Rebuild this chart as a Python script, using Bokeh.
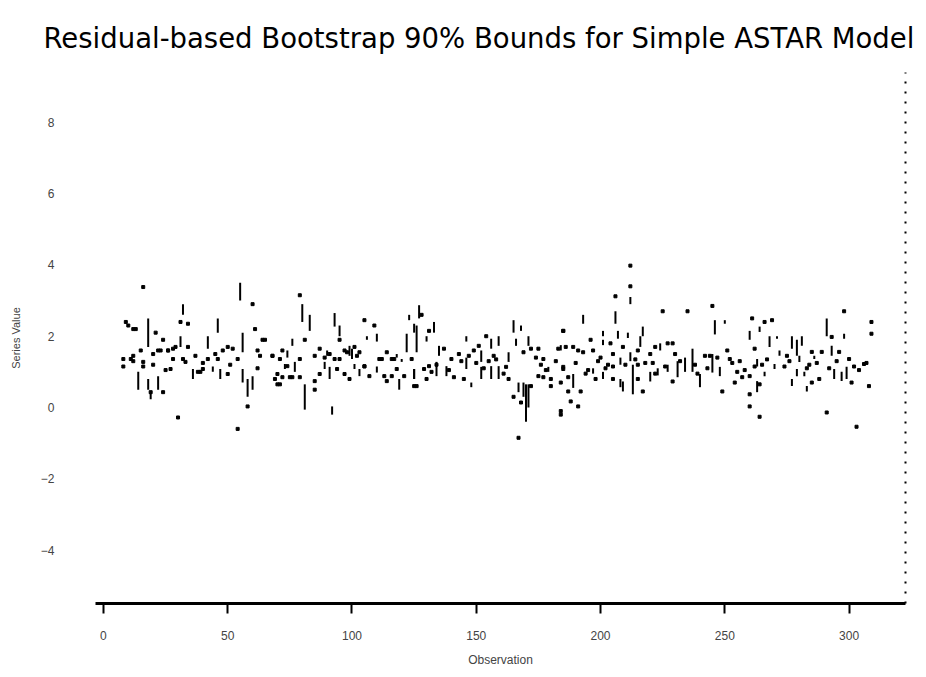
from bokeh.plotting import figure
from bokeh.models import Range1d, LinearAxis, FixedTicker
from bokeh.embed import file_html
from bokeh.resources import INLINE

# ---- data (observation, series value) ----
dot_obs = [16, 60, 31, 34, 10, 13, 21, 24, 61, 64, 8, 8, 11, 15, 16, 20, 23, 26, 28, 32, 34, 39, 42, 50, 48,
           52, 54, 19, 24, 30, 54, 58, 12, 20, 25, 29, 37, 40, 45, 51, 62, 63,
           79, 95, 105, 109, 65, 81, 68, 72, 79, 71, 70, 72, 76, 79, 69, 71, 85, 87, 89, 91, 87, 85, 85, 95,
           97, 101, 102, 105, 107, 99, 97, 112, 114, 116, 113, 116, 114, 121, 125,
           128, 131, 137, 124, 126, 129, 131, 132, 130, 140, 141, 144, 145, 147, 149, 151, 154, 155, 157, 162,
           163, 169, 172, 165, 168, 167, 175, 174, 177, 175, 177, 180, 180, 183, 185, 185, 184, 184, 172,
           212, 212, 206, 225, 235, 245, 185, 196, 186, 189, 191, 193, 197, 204, 205, 209, 215, 220, 222, 227,
           229, 230, 242, 200, 203, 205, 215, 215, 217, 221, 222, 229, 239, 185, 187, 187, 192, 188, 191, 184,
           194, 198, 205,
           298, 309, 309, 261, 266, 293, 296, 251, 262, 275, 285, 289, 300, 306, 244, 247, 252, 262, 254, 255,
           257, 260, 264, 283, 285, 288, 301, 308, 249, 260, 260, 264, 291, 303, 269,
           9, 12, 12, 16, 22, 26, 28, 33, 27, 38, 40, 46, 50, 62, 68, 74, 75, 70, 93, 94, 98, 103, 105, 117,
           118, 111, 134, 139, 143, 150, 153, 158, 161, 176, 178, 182, 190, 195, 199, 202, 210, 214, 218, 226,
           232, 238, 243, 253, 256, 258, 265, 267, 274, 276, 284, 287, 292, 295, 302, 304, 307]
dot_val = [3.38, 2.9, 2.4, 2.35, 2.3, 2.2, 2.1, 1.9, 2.2, 1.9, 1.36, 1.15, 1.36, 1.6, 1.28, 1.5, 1.6, 1.6, 1.36,
           1.36, 1.7, 1.0, 1.36, 0.94, 1.6, 1.65, 1.36, 0.43, 0.43, -0.28, -0.6, 0.03, 1.45, 1.2, 1.05, 1.7,
           1.45, 1.25, 1.5, 1.2, 1.1, 1.45,
           3.15, 1.9, 2.45, 2.3, 1.9, 1.9, 1.45, 1.6, 1.36, 1.36, 0.94, 0.85, 0.85, 0.85, 0.8, 0.65, 1.45, 1.65,
           1.4, 1.5, 0.94, 0.74, 0.5, 1.36, 1.6, 1.7, 1.45, 1.15, 0.88, 0.8, 0.94, 1.36, 1.55, 1.36, 0.88, 0.88,
           0.74, 0.88, 0.6,
           2.6, 2.15, 1.65, 1.36, 0.6, 1.08, 1.16, 1.0, 0.8, 1.36, 0.85, 1.3, 0.8, 1.45, 1.6, 1.73, 2.0, 1.3,
           1.45, 1.14, 0.8, 1.55, 1.65, 0.3, 0.14, -0.85, 1.65, 1.4, 1.36, 0.88, 0.85, 0.8, 0.6, 1.65, 2.15,
           1.14, 0.7, -0.1, 0.6,
           3.98, 3.4, 3.12, 2.7, 2.7, 2.85, 2.15, 1.9, 1.7, 1.7, 1.6, 1.55, 1.6, 1.8, 1.5, 1.7, 1.6, 1.5, 1.7,
           1.8, 1.8, 1.5, 1.45, 1.4, 1.2, 1.15, 1.2, 0.8, 0.45, 1.25, 0.95, 0.73, 0.95, 1.08, 0.85, 0.45, 0.45,
           0.17, 0.03, -0.2, 0.95, 0.8, 0.8,
           2.7, 2.4, 2.07, 2.5, 2.4, 1.98, 1.56, 1.6, 1.65, 1.45, 1.56, 1.56, 1.36, 1.22, 1.45, 1.4, 1.36, 1.15,
           0.7, 1.0, 0.85, 0.88, 0.65, 1.1, 0.7, 0.8, 0.7, 0.6, 0.45, 0.37, 0.03, -0.26, -0.14, -0.54, 2.45,
           2.4, 2.2, 1.3, 1.15, 1.6, 1.6, 1.65, 1.28, 1.08, 1.0, 1.08, 1.36, 1.7, 1.6, 1.45, 1.16, 0.85, 0.65,
           1.36, 1.08, 1.55, 1.55, 1.16, 1.36, 1.08, 1.36, 1.2, 1.05, 1.5, 1.25, 1.1, 1.35, 0.95, 1.2, 1.05,
           1.3, 1.25, 1.05, 1.3, 1.1, 1.2, 1.35, 1.25, 1.15, 1.3, 1.2, 1.1, 1.25, 1.3, 1.05, 1.2, 1.35, 1.15,
           1.3, 1.2, 1.25, 1.1, 1.3, 1.15, 1.05, 1.25]

# short vertical runs of points: observation, low value, high value
run_obs = [55, 32, 46, 18, 31, 42, 56, 36, 44, 47, 56, 58, 60, 14, 18, 22, 19,
           80, 83, 93, 95, 106, 110, 123, 125, 122, 76, 74, 73, 77, 81, 90, 89, 91, 92, 99, 100, 101, 103,
           110, 118, 120, 119, 125,
           127, 126, 133, 130, 135, 125, 134, 138, 146, 146, 148, 152, 152, 156, 159, 156, 159, 163, 165, 168,
           166, 171, 167, 169, 170, 171, 179,
           212, 193, 206, 246, 201, 207, 211, 217, 237, 245, 184, 201, 216, 224, 208, 212, 213, 220, 223, 227,
           231, 234, 240, 189, 197, 201, 208, 209,
           250, 260, 264, 268, 271, 277, 279, 281, 291, 298, 293, 272, 280, 286, 263, 248, 266, 270, 277,
           279, 282, 283, 263, 294, 297, 299]
run_lo = [3.0, 2.6, 2.1, 1.7, 1.7, 1.65, 1.55, 0.8, 1.0, 0.8, 0.7, 0.3, 0.5, 0.5, 0.5, 0.5, 0.23,
          2.4, 2.15, 2.27, 2.0, 1.9, 1.85, 2.45, 2.1, 1.55, 1.73, 1.4, 1.08, 1.0, -0.06, 1.45, 1.08, 0.8, -0.2,
          1.45, 1.36, 1.08, 0.88, 0.98, 1.4, 1.28, 0.5, 0.8,
          2.5, 1.55, 2.1, 1.85, 1.45, 0.8, 0.88, 0.88, 1.08, 1.85, 0.57, 1.28, 0.8, 1.65, 1.73, 0.8, 0.8, 1.28,
          2.1, 2.15, 1.73, 1.73, 0.43, 0.3, -0.4, 0.0, 1.0,
          2.9, 2.35, 2.35, 2.05, 2.0, 1.93, 1.95, 2.0, 1.0, 0.98, 1.6, 1.75, 1.7, 1.6, 1.2, 1.3, 0.37, 0.73,
          0.9, 1.0, 0.85, 1.0, 0.57, 0.55, 0.95, 0.8, 0.57, 0.45,
          2.35, 1.9, 2.12, 1.7, 1.93, 1.65, 1.45, 1.73, 2.0, 1.93, 1.45, 1.45, 1.28, 1.36, 1.15, 0.88, 0.88,
          1.08, 0.6, 0.88, 0.88, 0.45, 0.43, 0.8, 0.74, 0.8]
run_hi = [3.5, 2.9, 2.5, 2.5, 2.0, 2.0, 2.1, 1.08, 1.15, 1.08, 1.08, 0.8, 0.88, 1.0, 0.8, 0.88, 0.43,
          2.9, 2.6, 2.65, 2.3, 2.0, 2.07, 2.6, 2.35, 2.07, 1.93, 1.6, 1.22, 1.28, 0.65, 1.6, 1.28, 1.14, 0.03,
          1.73, 1.65, 1.22, 1.08, 1.15, 1.5, 1.36, 0.8, 1.08,
          2.87, 2.3, 2.4, 2.0, 1.73, 1.08, 1.28, 1.16, 1.4, 2.0, 0.7, 1.6, 1.14, 1.93, 2.0, 1.16, 1.16, 1.55,
          2.45, 2.3, 1.93, 2.0, 0.7, 0.7, 0.65, 0.65, 1.14,
          3.1, 2.6, 2.7, 2.45, 2.15, 2.15, 2.1, 2.27, 1.65, 1.5, 1.75, 1.9, 2.0, 1.8, 1.4, 1.55, 1.2, 1.0,
          1.1, 1.2, 1.3, 1.4, 0.94, 0.94, 1.1, 1.0, 0.8, 0.73,
          2.45, 2.15, 2.27, 2.0, 2.0, 2.0, 1.9, 2.0, 2.5, 2.07, 1.73, 1.6, 1.45, 1.45, 1.36, 1.14, 1.0,
          1.22, 0.8, 1.08, 1.0, 0.6, 0.74, 1.08, 1.0, 1.14]

x_ticks = [0, 50, 100, 150, 200, 250, 300]
y_ticks = [-4, -2, 0, 2, 4, 6, 8]
title_text = "Residual-based Bootstrap 90% Bounds for Simple ASTAR Model"

p = figure(width=926, height=677, output_backend="svg", toolbar_location=None,
           x_range=Range1d(-3.2, 322.7), y_range=Range1d(-5.5, 9.4),
           min_border_left=95, min_border_right=21, min_border_top=70, min_border_bottom=74,
           x_axis_label="Observation", y_axis_label="Series Value")

p.title.text = title_text
p.title.text_font = "DejaVu Sans"
p.title.text_font_size = "27.5px"
p.title.text_font_style = "normal"
p.title.text_color = "black"
p.title.align = "left"
p.title.offset = -52
p.title.vertical_align = "bottom"
p.title.standoff = 38

p.grid.visible = False
p.outline_line_color = None
p.background_fill_color = "white"
p.border_fill_color = "white"

xa = p.xaxis[0]
xa.ticker = FixedTicker(ticks=x_ticks)
xa.axis_line_width = 3
xa.axis_line_color = "black"
xa.major_tick_line_width = 2
xa.major_tick_in = 0
xa.major_tick_out = 10
xa.minor_tick_line_color = None
xa.major_label_standoff = 17
xa.major_label_text_font = "Liberation Sans"
xa.major_label_text_font_size = "12px"
xa.axis_label_text_font = "Liberation Sans"
xa.axis_label_text_font_size = "12px"
xa.axis_label_text_font_style = "normal"
xa.axis_label_standoff = 10

ya = p.yaxis[0]
ya.ticker = FixedTicker(ticks=y_ticks)
ya.axis_line_color = None
ya.major_tick_line_color = None
ya.minor_tick_line_color = None
ya.major_label_standoff = 35
ya.major_label_text_font = "Liberation Sans"
ya.major_label_text_font_size = "12px"
ya.axis_label_text_font = "Liberation Sans"
ya.axis_label_text_font_size = "11px"
ya.axis_label_text_font_style = "normal"
ya.axis_label_standoff = 16

# dotted right border
rax = LinearAxis(axis_line_dash="2 8", axis_line_color="black", axis_line_width=2,
                 major_tick_line_color=None, minor_tick_line_color=None,
                 major_label_text_font_size="0px", ticker=FixedTicker(ticks=[]))
p.add_layout(rax, "right")

p.segment(x0=run_obs, y0=run_lo, x1=run_obs, y1=run_hi, line_color="black", line_width=2)
p.scatter(x=dot_obs, y=dot_val, marker="square", size=3, fill_color="black", line_color="black")

open("out.html", "w").write(file_html(p, INLINE))
